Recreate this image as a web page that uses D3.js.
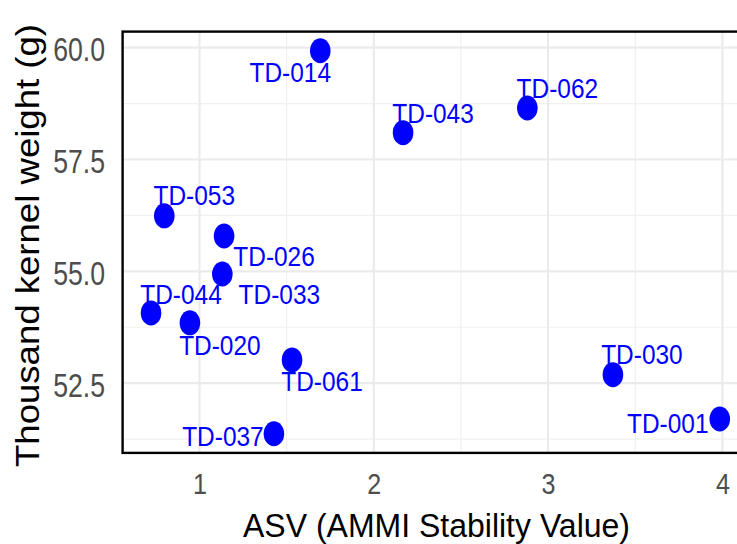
<!DOCTYPE html>
<html>
<head>
<meta charset="utf-8">
<script src="https://cdn.jsdelivr.net/npm/d3@7"></script>
<style>
  html, body { margin: 0; padding: 0; background: #ffffff; }
  svg { display: block; font-family: "Liberation Sans", Arial, sans-serif; }
</style>
</head>
<body>
<svg id="chart" width="737" height="544"></svg>
<script>
// Genotypes: AMMI stability value vs thousand kernel weight
const genotypes = ["TD-001", "TD-014", "TD-020", "TD-026", "TD-030", "TD-033",
                   "TD-037", "TD-043", "TD-044", "TD-053", "TD-061", "TD-062"];
const asv = [3.985, 1.693, 0.945, 1.141, 3.372, 1.131,
             1.427, 2.168, 0.722, 0.798, 1.531, 2.881];
const tkw = [51.70, 59.93, 53.85, 55.79, 52.69, 54.94,
             51.37, 58.10, 54.07, 56.24, 53.02, 58.65];

const xTicks = [1, 2, 3, 4];
const xMinor = [1.5, 2.5, 3.5];
const yTicks = [52.5, 55.0, 57.5, 60.0];
const yMinor = [51.25, 53.75, 56.25, 58.75];

// Label placement (offset of label centre / baseline from its point, px)
const labelNudge = {
  "TD-001": [-52, 14], "TD-014": [-30, 31], "TD-020": [30, 32], "TD-026": [50, 30],
  "TD-030": [29, -11], "TD-033": [57, 30], "TD-037": [-51, 12], "TD-043": [30, -9.5],
  "TD-044": [30, -9], "TD-053": [30, -10.5], "TD-061": [30, 31.5], "TD-062": [30, -10]
};

const data = genotypes.map((g, i) => ({ g, x: asv[i], y: tkw[i] }));

// ggplot-style 5% expansion of the data range
function expand(ext) {
  const r = ext[1] - ext[0];
  return [ext[0] - 0.05 * r, ext[1] + 0.05 * r];
}

const panel = { left: 122.6, right: 748.2, top: 31.6, bottom: 452.9 };

const x = d3.scaleLinear().domain(expand(d3.extent(asv))).range([panel.left, panel.right]);
const y = d3.scaleLinear().domain(expand(d3.extent(tkw))).range([panel.bottom, panel.top]);

const svg = d3.select("#chart");
svg.append("rect").attr("width", 737).attr("height", 544).attr("fill", "#ffffff");

// narrow the rendered text to a fraction of its natural width
function squeeze(sel, factor) {
  sel.each(function () {
    const w = this.getComputedTextLength();
    this.setAttribute("textLength", w * factor);
    this.setAttribute("lengthAdjust", "spacingAndGlyphs");
  });
}

const grid = svg.append("g");
grid.selectAll(".vminor").data(xMinor).join("line")
  .attr("x1", d => x(d)).attr("x2", d => x(d))
  .attr("y1", panel.top).attr("y2", panel.bottom)
  .attr("stroke", "#f0f0f0").attr("stroke-width", 1.2);
grid.selectAll(".hminor").data(yMinor).join("line")
  .attr("y1", d => y(d)).attr("y2", d => y(d))
  .attr("x1", panel.left).attr("x2", panel.right)
  .attr("stroke", "#f0f0f0").attr("stroke-width", 1.2);
grid.selectAll(".vmajor").data(xTicks).join("line")
  .attr("x1", d => x(d)).attr("x2", d => x(d))
  .attr("y1", panel.top).attr("y2", panel.bottom)
  .attr("stroke", "#ebebeb").attr("stroke-width", 2.2);
grid.selectAll(".hmajor").data(yTicks).join("line")
  .attr("y1", d => y(d)).attr("y2", d => y(d))
  .attr("x1", panel.left).attr("x2", panel.right)
  .attr("stroke", "#ebebeb").attr("stroke-width", 2.2);

// points
svg.append("g").selectAll("ellipse").data(data).join("ellipse")
  .attr("cx", d => x(d.x)).attr("cy", d => y(d.y))
  .attr("rx", 10.3).attr("ry", 12.5)
  .attr("fill", "#0000ff");

// point labels
const labels = svg.append("g").selectAll("text").data(data).join("text")
  .attr("x", d => x(d.x) + labelNudge[d.g][0])
  .attr("y", d => y(d.y) + labelNudge[d.g][1])
  .attr("text-anchor", "middle")
  .attr("font-size", 28)
  .attr("fill", "#0000ff")
  .text(d => d.g);
squeeze(labels, 0.873);

// panel border
svg.append("rect")
  .attr("x", panel.left).attr("y", panel.top)
  .attr("width", panel.right - panel.left).attr("height", panel.bottom - panel.top)
  .attr("fill", "none").attr("stroke", "#000000").attr("stroke-width", 2.4);

// axes
const xAxis = svg.append("g")
  .attr("transform", `translate(0,${panel.bottom})`)
  .call(d3.axisBottom(x).tickValues(xTicks).tickFormat(d3.format("d")).tickSize(0));
xAxis.select(".domain").remove();
xAxis.selectAll("text")
  .attr("font-size", 29.5).attr("font-family", null)
  .attr("fill", "#4d4d4d")
  .attr("dy", null).attr("y", 41);
squeeze(xAxis.selectAll("text"), 0.85);

const yAxis = svg.append("g")
  .attr("transform", `translate(${panel.left},0)`)
  .call(d3.axisLeft(y).tickValues(yTicks).tickFormat(d3.format(".1f")).tickSize(0));
yAxis.select(".domain").remove();
yAxis.selectAll("text")
  .attr("font-size", 32.5).attr("font-family", null)
  .attr("fill", "#4d4d4d")
  .attr("x", -17.5).attr("dy", "0.4em");
squeeze(yAxis.selectAll("text"), 0.82);

// axis titles
svg.append("text")
  .attr("x", 436.5).attr("y", 537)
  .attr("text-anchor", "middle")
  .attr("font-size", 32.5).attr("fill", "#000000")
  .attr("textLength", 387).attr("lengthAdjust", "spacingAndGlyphs")
  .text("ASV (AMMI Stability Value)");

svg.append("text")
  .attr("transform", "translate(38.5,245.5) rotate(-90)")
  .attr("text-anchor", "middle")
  .attr("font-size", 32.5).attr("fill", "#000000")
  .attr("textLength", 443).attr("lengthAdjust", "spacingAndGlyphs")
  .text("Thousand kernel weight (g)");
</script>
</body>
</html>
